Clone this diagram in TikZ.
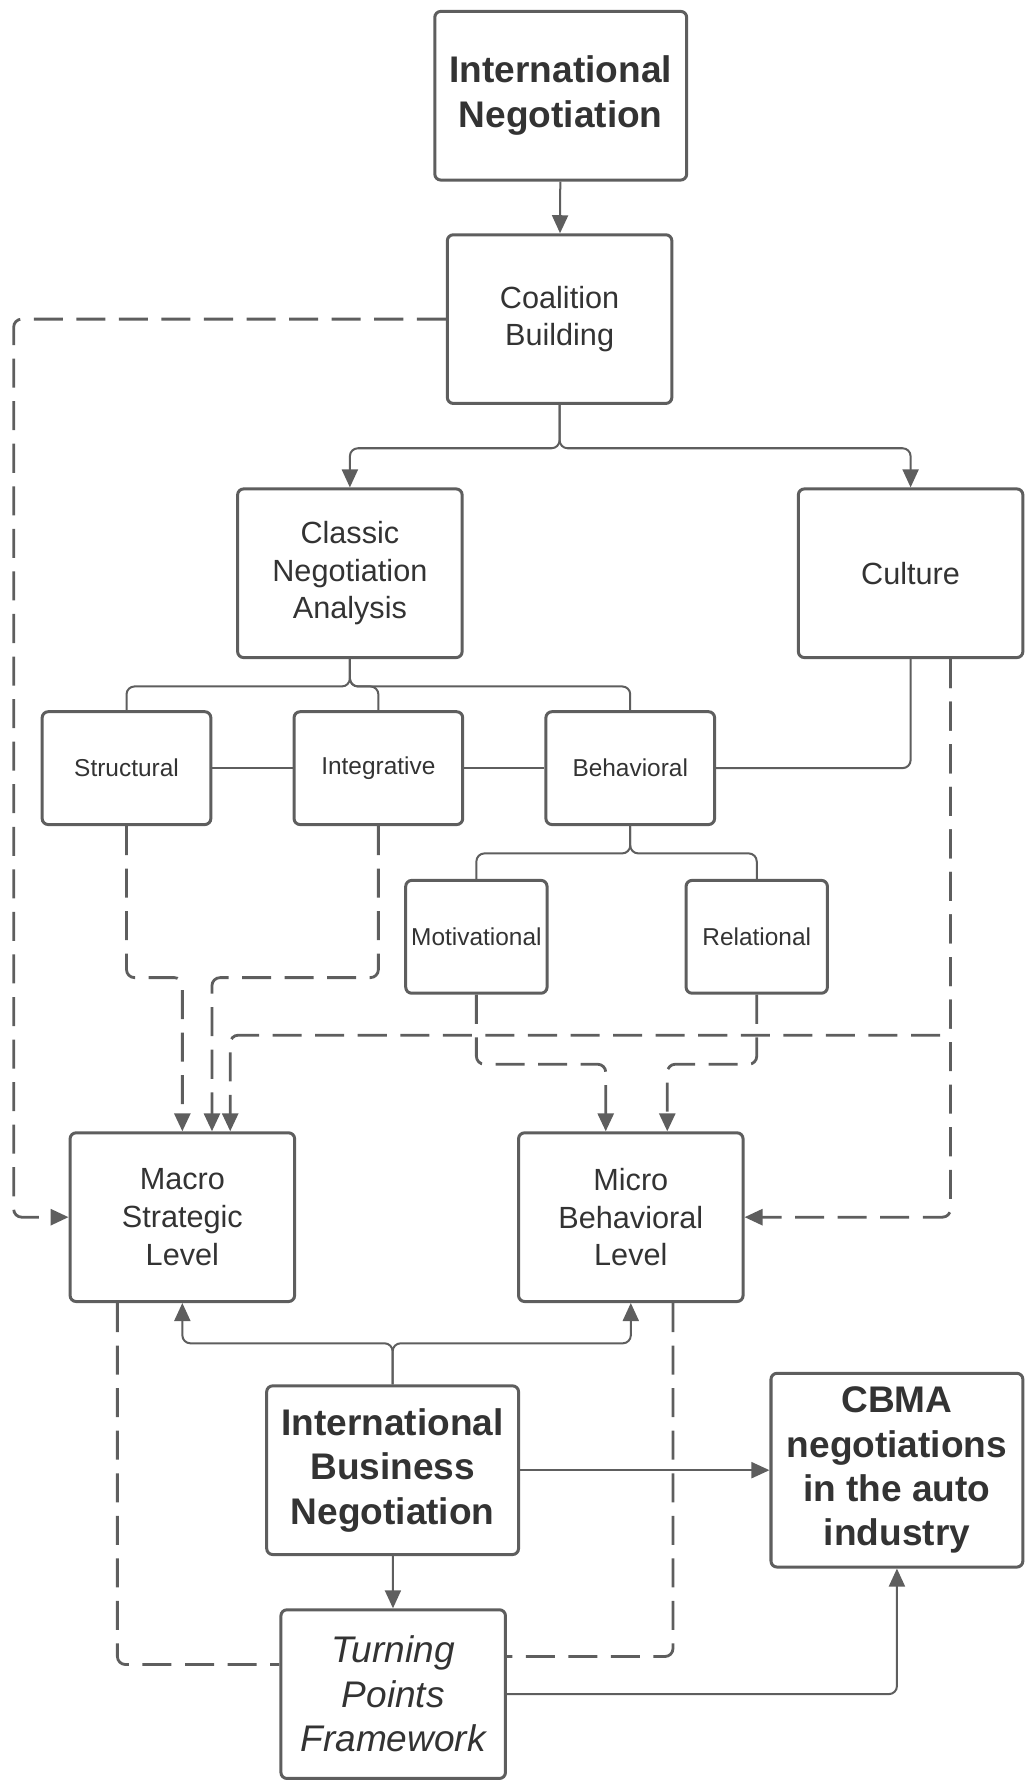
\documentclass[tikz,border=0pt]{standalone}
\usepackage{fontspec}
\setmainfont{Liberation Sans}
\usepackage{xcolor}
\usepackage{tikz}
\usetikzlibrary{arrows.meta}
\usetikzlibrary{backgrounds}
\pgfdeclarelayer{edgelayer}
\pgfdeclarelayer{nodelayer}
\pgfsetlayers{background,edgelayer,nodelayer,main}
\definecolor{linegray}{RGB}{94,94,94}
\definecolor{textgray}{RGB}{51,51,51}
\tikzstyle{none}=[inner sep=0mm]
\tikzstyle{box}=[draw=linegray,line width=1.5pt,rounded corners=3pt,align=center,text=textgray,inner sep=1pt]
\tikzstyle{bn}=[box,minimum width=4.42cm,minimum height=2.96cm,font=\fontsize{18.5}{22.2}\selectfont\bfseries]
\tikzstyle{mn}=[box,minimum width=3.94cm,minimum height=2.96cm,font=\fontsize{15.3}{18.8}\selectfont]
\tikzstyle{sn}=[box,minimum width=2.96cm,minimum height=1.98cm,font=\fontsize{12.2}{14}\selectfont]
\tikzstyle{tn}=[sn,minimum width=2.48cm]
\tikzstyle{itn}=[mn,font=\fontsize{18.5}{22.2}\selectfont\itshape]
\tikzstyle{wire}=[draw=linegray,line width=1pt,rounded corners=4pt]
\tikzstyle{arrw}=[wire,-{Triangle[length=9pt,width=8pt]}]
\tikzstyle{dwire}=[wire,line width=1.4pt,dash pattern=on 14.5pt off 6.75pt]
\tikzstyle{darrw}=[dwire,-{Triangle[length=9pt,width=8pt]}]
\begin{document}
\begin{tikzpicture}
	\useasboundingbox (0,0) rectangle (18.12,-31.36);
	\begin{pgfonlayer}{nodelayer}
		\node [style=bn] (intn) at (9.84, -1.68) {International\\Negotiation};
		\node [style=mn] (cb) at (9.82, -5.6) {Coalition\\Building};
		\node [style=mn] (cna) at (6.14, -10.06) {Classic\\Negotiation\\Analysis};
		\node [style=mn] (cul) at (15.98, -10.06) {Culture};
		\node [style=sn] (str) at (2.22, -13.48) {Structural};
		\node [style=sn] (int) at (6.64, -13.48) {Integrative};
		\node [style=sn] (beh) at (11.06, -13.48) {Behavioral};
		\node [style=tn] (mot) at (8.36, -16.44) {Motivational};
		\node [style=tn] (rel) at (13.28, -16.44) {Relational};
		\node [style=mn] (mac) at (3.2, -21.36) {Macro\\Strategic\\Level};
		\node [style=mn] (mic) at (11.07, -21.36) {Micro\\Behavioral\\Level};
		\node [style=bn] (ibn) at (6.89, -25.8) {International\\Business\\Negotiation};
		\node [style=bn, minimum height=3.4cm] (cbma) at (15.74, -25.8) {CBMA\\negotiations\\in the auto\\industry};
		\node [style=itn] (tpf) at (6.9, -29.73) {Turning\\Points\\Framework};
		\coordinate (lft) at (0.24, -5.6);
	\end{pgfonlayer}
	\begin{pgfonlayer}{edgelayer}
		\draw [style=arrw] (intn) to (cb);
		\draw [style=arrw] (cb.south) -- ++(0,-0.76) -| (cna.north);
		\draw [style=arrw] (cb.south) -- ++(0,-0.76) -| (cul.north);
		\draw [style=wire] (cna.south) -- ++(0,-0.48) -| (str.north);
		\draw [style=wire] (cna.south) -- ++(0,-0.48) -| (int.north);
		\draw [style=wire] (cna.south) -- ++(0,-0.48) -| (beh.north);
		\draw [style=wire] (str) to (int);
		\draw [style=wire] (int) to (beh);
		\draw [style=wire] (beh.east) -| (cul.south);
		\draw [style=wire] (beh.south) -- ++(0,-0.48) -| (mot.north);
		\draw [style=wire] (beh.south) -- ++(0,-0.48) -| (rel.north);
		\draw [style=darrw] (cb.west) -- (lft) |- (mac.west);
		\draw [style=darrw] (str.south) -- ++(0,-2.66) -| (mac.north);
		\draw [style=darrw] (int.south) -- ++(0,-2.66) -| ([xshift=0.52cm]mac.north);
		\draw [style=darrw] ([xshift=0.7cm]cul.south) -- ++(0,-6.6) -| ([xshift=0.84cm]mac.north);
		\draw [style=darrw] ([xshift=0.7cm]cul.south) |- (mic.east);
		\draw [style=darrw] (mot.south) -- ++(0,-1.22) -| ([xshift=-0.44cm]mic.north);
		\draw [style=darrw] (rel.south) -- ++(0,-1.22) -| ([xshift=0.64cm]mic.north);
		\draw [style=arrw] (ibn.north) -- ++(0,0.72) -| (mac.south);
		\draw [style=arrw] (ibn.north) -- ++(0,0.72) -| (mic.south);
		\draw [style=arrw] (ibn) to (cbma);
		\draw [style=arrw] (ibn) to (tpf);
		\draw [style=arrw] (tpf.east) -| (cbma.south);
		\draw [style=dwire] ([xshift=-1.14cm]mac.south) |- ([yshift=0.52cm]tpf.west);
		\draw [style=dwire] ([xshift=0.74cm]mic.south) |- ([yshift=0.66cm]tpf.east);
	\end{pgfonlayer}
\end{tikzpicture}
\end{document}
